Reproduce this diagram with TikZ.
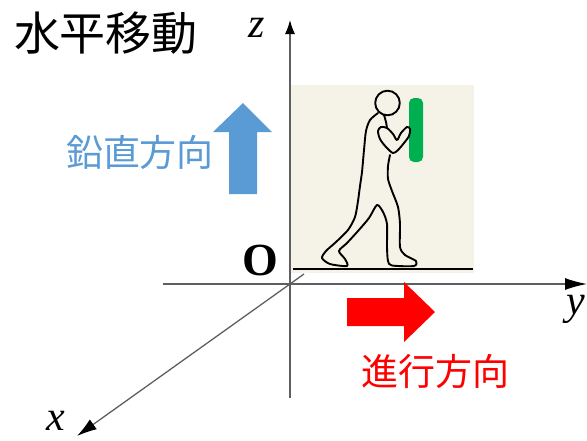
\documentclass[tikz,border=0pt]{standalone}
\usepackage{fontspec}
\setmainfont{Liberation Serif}
\newfontfamily\jpfont{Noto Sans CJK JP}
\usetikzlibrary{arrows.meta}
\definecolor{panelbg}{RGB}{245,243,231}
\definecolor{vblue}{RGB}{91,155,213}
\definecolor{hred}{RGB}{255,0,0}
\definecolor{bargreen}{RGB}{0,176,80}
\definecolor{axisgray}{RGB}{95,95,95}
\begin{document}
\begin{tikzpicture}[x=1pt,y=-1pt,
  axis/.style={draw=axisgray,line width=1.3pt},
  axislabel/.style={inner sep=0pt,font=\fontsize{42}{42}\selectfont\itshape},
  jplabel/.style={inner sep=0pt,font=\jpfont\fontsize{37}{37}\selectfont},
  figline/.style={line width=1.9pt,line cap=round,line join=round},
]
\useasboundingbox (0,0) rectangle (587,440);

% title
\node[inner sep=0pt,font=\jpfont\fontsize{46}{46}\selectfont] (title) at (106,33) {水平移動};

% axes
\coordinate (O) at (290,284);
\coordinate (zbot) at (290,398);
\coordinate (ztop) at (290,20);
\coordinate (yleft) at (163,284);
\coordinate (yright) at (587,284);
\coordinate (xback) at (304,274);
\coordinate (xtip) at (77,436);
\draw[axis,-{Latex[length=14pt,width=10pt,color=black]}] (zbot) -- (ztop);
\draw[axis,-{Latex[length=22pt,width=12pt,color=black]}] (yleft) -- (yright);
\draw[axis,-{Latex[length=20pt,width=12pt,color=black]}] (xback) -- (xtip);

% panel with walking figure
\fill[panelbg] (290.6,85) rectangle (474,273);
\coordinate (gl) at (293,269);
\coordinate (gr) at (473,269);
\draw[line width=2.4pt] (gl) -- (gr);

% holding bar
\fill[bargreen,rounded corners=5pt] (409,98) rectangle (423,162);

% head
\draw[figline] (387.5,103) circle[radius=12.3];
% back, legs and front of torso
\draw[figline] plot[smooth,tension=0.45] coordinates {
  (378,113) (370,120) (366,131) (364,150) (362,172) (360,186)
  (358,201) (355,217) (348,230) (336,242) (326,251) (322,258)
  (330,264) (347,266) (345,259) (339,251) (347,243) (358,231)
  (369,218) (377,205) (383,212) (387,224) (387,247) (388,261)
  (392,265.5) (414,266) (416,261) (405,255) (400,247) (400,224)
  (398,207) (392,191) (388,179) (388,166) (390,155)};
% neck
\draw[figline] plot[smooth,tension=0.5] coordinates {(384,115) (386,122) (387,128)};
% arm loop
\draw[figline] plot[smooth cycle,tension=0.5] coordinates {
  (381,127) (378,131) (380,139) (386,147) (393,153) (398,150)
  (404,143) (409,136) (410,129) (407,127) (401,133) (397,140)
  (393,134) (387,128)};

% vertical direction arrow
\fill[vblue] (243,103) -- (272,132) -- (257,132) -- (257,194) -- (229,194)
  -- (229,132) -- (213,132) -- cycle;
\node[jplabel,text=vblue] (vlabel) at (140,152) {鉛直方向};

% direction of travel arrow
\fill[hred] (435,312) -- (404,342) -- (404,326) -- (347,326) -- (347,298)
  -- (404,298) -- (404,282) -- cycle;
\node[jplabel,text=hred] (hlabel) at (435,371) {進行方向};

% axis labels
\node[axislabel] (zl) at (257,28) {z};
\node[axislabel] (yl) at (576,309) {y};
\node[axislabel] (xl) at (56,421) {x};
\node[inner sep=0pt,font=\fontsize{46}{46}\selectfont\bfseries] (ol) at (260,260) {O};
\end{tikzpicture}
\end{document}
